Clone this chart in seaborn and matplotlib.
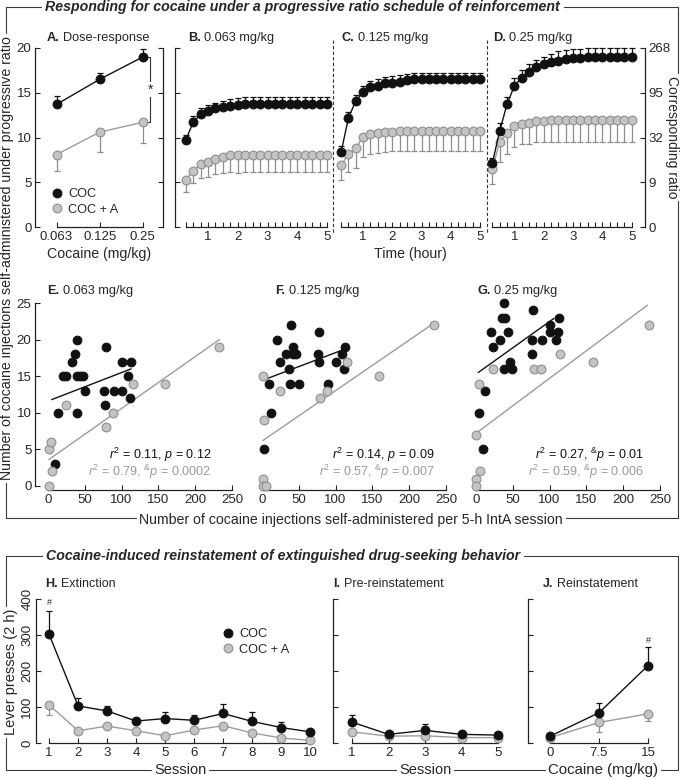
import numpy as np
import matplotlib
matplotlib.use('Agg')
import matplotlib.pyplot as plt
import seaborn as sns
from matplotlib.lines import Line2D

# 데이터 ------------------------------------------------------------------
W, H = 685, 779

# A. dose-response
doses = ['0.063', '0.125', '0.25']
a_coc = [13.7, 16.5, 19.0]
a_coc_err = [0.9, 0.7, 0.9]
a_coca = [8.1, 10.6, 11.7]
a_coca_err = [1.8, 2.2, 2.3]

# B-D. time course (cumulative injections)
time_h = [0.25, 0.5, 0.75, 1.0, 1.25, 1.5, 1.75, 2.0, 2.25, 2.5,
          2.75, 3.0, 3.25, 3.5, 3.75, 4.0, 4.25, 4.5, 4.75, 5.0]
b_coc = [9.7, 11.7, 12.6, 13.0, 13.25, 13.4, 13.55, 13.65, 13.7, 13.7,
         13.75, 13.75, 13.75, 13.75, 13.75, 13.75, 13.75, 13.75, 13.75, 13.75]
b_coc_err = [0.6, 0.7, 0.7, 0.65, 0.65, 0.7, 0.75, 0.75, 0.8, 0.8,
             0.8, 0.8, 0.8, 0.8, 0.8, 0.8, 0.8, 0.8, 0.8, 0.8]
b_coca = [5.25, 6.3, 7.0, 7.3, 7.55, 7.8, 8.0, 8.05, 8.1, 8.1,
          8.1, 8.1, 8.1, 8.1, 8.1, 8.1, 8.1, 8.1, 8.1, 8.1]
b_coca_err = [1.35, 1.4, 1.55, 1.7, 1.65, 1.8, 1.9, 2.0, 2.0, 2.0,
              2.0, 2.0, 2.0, 2.0, 2.0, 2.0, 2.0, 2.0, 2.0, 2.0]
c_coc = [8.4, 12.2, 14.1, 15.05, 15.6, 15.75, 16.05, 16.1, 16.2, 16.4,
         16.5, 16.5, 16.5, 16.5, 16.5, 16.5, 16.5, 16.5, 16.5, 16.5]
c_coc_err = [0.6, 0.7, 0.65, 0.7, 0.7, 0.75, 0.75, 0.75, 0.75, 0.75,
             0.75, 0.75, 0.75, 0.75, 0.75, 0.75, 0.75, 0.75, 0.75, 0.75]
c_coca = [6.9, 8.15, 8.8, 10.1, 10.35, 10.5, 10.6, 10.65, 10.7, 10.75,
          10.75, 10.75, 10.75, 10.75, 10.75, 10.75, 10.75, 10.75, 10.75, 10.75]
c_coca_err = [1.65, 1.95, 2.25, 2.25, 2.2, 2.2, 2.2, 2.2, 2.25, 2.25,
              2.25, 2.25, 2.25, 2.25, 2.25, 2.25, 2.25, 2.25, 2.25, 2.25]
d_coc = [7.1, 10.7, 13.7, 15.75, 16.7, 17.35, 17.9, 18.2, 18.4, 18.6,
         18.75, 18.85, 18.9, 18.95, 18.95, 19.0, 19.0, 19.0, 19.0, 19.0]
d_coc_err = [0.6, 0.9, 0.85, 0.85, 0.85, 0.85, 0.8, 0.8, 0.9, 1.1,
             1.0, 1.0, 1.0, 1.0, 1.0, 1.0, 1.0, 1.0, 1.0, 1.0]
d_coca = [6.45, 9.5, 10.55, 11.3, 11.5, 11.6, 11.8, 11.85, 11.9, 11.9,
          11.9, 11.9, 11.9, 11.9, 11.9, 11.9, 11.9, 11.9, 11.9, 11.9]
d_coca_err = [1.7, 2.2, 2.35, 2.35, 2.25, 2.3, 2.3, 2.35, 2.35, 2.35,
              2.35, 2.35, 2.35, 2.35, 2.35, 2.35, 2.35, 2.35, 2.35, 2.35]
ratio_ticks = [0, 5, 10, 15, 20]
ratio_labels = ['0', '9', '32', '95', '268']

# E-G. scatter: PR injections vs IntA injections
e_coc_x = [40, 37, 33, 20, 25, 39, 43, 47, 50, 13, 39, 10, 79, 101, 113, 109, 76, 90, 101, 77, 112]
e_coc_y = [20, 18, 17, 15, 15, 15, 15, 15, 13, 10, 10, 3, 19, 17, 17, 15, 13, 13, 13, 11, 12]
e_coca_x = [1, 4, 6, 2, 24, 79, 89, 115, 159, 233]
e_coca_y = [5, 6, 2, 0, 11, 8, 10, 14, 14, 19]
e_fit_coc = ([5, 113], [11.8, 16.0])
e_fit_coca = ([1, 233], [3.6, 20.0])

f_coc_x = [40, 20, 78, 42, 32, 42, 46, 24, 37, 76, 77, 109, 113, 101, 112, 10, 38, 50, 90, 12, 3]
f_coc_y = [22, 20, 21, 19, 18, 18, 18, 17, 16, 18, 17, 18, 19, 17, 16, 14, 14, 14, 14, 10, 5]
f_coca_x = [1, 24, 3, 1, 1, 5, 79, 88, 115, 159, 234]
f_coca_y = [15, 13, 9, 1, 0, 0, 12, 13, 17, 15, 22]
f_fit_coc = ([5, 110], [14.6, 18.6])
f_fit_coca = ([1, 233], [6.2, 22.2])

g_coc_x = [38, 36, 40, 78, 113, 20, 43, 100, 100, 112, 33, 23, 76, 90, 109, 76, 46, 38, 49, 12, 4, 9]
g_coc_y = [25, 23, 23, 24, 23, 21, 21, 22, 21, 21, 20, 19, 20, 20, 20, 18, 17, 16, 16, 13, 10, 5]
g_coca_x = [4, 23, 79, 88, 114, 159, 235, 0, 5, 0, 0]
g_coca_y = [14, 16, 16, 16, 18, 17, 22, 7, 2, 1, 0]
g_fit_coc = ([3, 106], [15.5, 22.9])
g_fit_coca = ([0, 233], [7.2, 24.7])

stats_text = {
    'E': (r'$r^2$ = 0.11, $p$ = 0.12', r'$r^2$ = 0.79, $^{&}p$ = 0.0002'),
    'F': (r'$r^2$ = 0.14, $p$ = 0.09', r'$r^2$ = 0.57, $^{&}p$ = 0.007'),
    'G': (r'$r^2$ = 0.27, $^{&}p$ = 0.01', r'$r^2$ = 0.59, $^{&}p$ = 0.006'),
}

# H-J. reinstatement
sessions_ext = [1, 2, 3, 4, 5, 6, 7, 8, 9, 10]
h_coc = [302, 103, 89, 61, 68, 63, 82, 60, 43, 31]
h_coc_err = [65, 21, 15, 3, 17, 15, 25, 26, 14, 4]
h_coca = [106, 34, 47, 34, 20, 36, 48, 28, 14, 7]
h_coca_err = [28, 4, 6, 4, 3, 5, 13, 3, 3, 2]

sessions_pre = [1, 2, 3, 4, 5]
i_coc = [58, 24, 35, 24, 22]
i_coc_err = [21, 4, 17, 3, 3]
i_coca = [31, 19, 20, 15, 15]
i_coca_err = [4, 6, 10, 5, 5]

reinst_doses = [0, 7.5, 15]
reinst_labels = ['0', '7.5', '15']
j_coc = [19, 84, 215]
j_coc_err = [3, 28, 51]
j_coca = [15, 57, 81]
j_coca_err = [3, 26, 19]

# 스타일 ------------------------------------------------------------------
sns.set_style('ticks')
plt.rcParams['font.family'] = ['Liberation Sans', 'DejaVu Sans']
plt.rcParams['mathtext.fontset'] = 'custom'
plt.rcParams['mathtext.rm'] = 'Liberation Sans'
plt.rcParams['mathtext.it'] = 'Liberation Sans:italic'
plt.rcParams['mathtext.bf'] = 'Liberation Sans:bold'

BLACK = '#111111'
GRAY_FACE = '#c4c4c4'
GRAY_EDGE = '#8e8e8e'
GRAY_LINE = '#9c9c9c'
GRAY_TEXT = '#9a9a9a'
FRAME = '#3a3a3a'
FS = 9.5      # tick labels
FL = 10.2     # axis / bracket labels
MS = 6.3

fig = plt.figure(figsize=(W / 100, H / 100), dpi=100)


def px_axes(l, t, r, b):
    ax = fig.add_axes([l / W, 1 - b / H, (r - l) / W, (b - t) / H])
    ax.set_facecolor('none')
    return ax


def style(ax, left=True, right=False, xb=None, yb=None):
    ax.spines['top'].set_visible(False)
    ax.spines['left'].set_visible(left)
    ax.spines['right'].set_visible(right)
    for s in ax.spines.values():
        s.set_linewidth(0.9)
        s.set_color('#222222')
    ax.tick_params(which='both', direction='in', length=3.5, width=0.8,
                   color='#222222', labelsize=FS, pad=3)
    ax.tick_params(axis='y', left=left, right=right, labelleft=left, pad=2.5)
    if xb is not None:
        ax.spines['bottom'].set_bounds(*xb)
    if yb is not None:
        ax.spines['left'].set_bounds(*yb)
        ax.spines['right'].set_bounds(*yb)


def series(ax, x, y, err, up, dark):
    err = np.asarray(err, dtype=float)
    zero = np.zeros_like(err)
    yerr = [zero, err] if up else [err, zero]
    ecol = BLACK if dark else GRAY_EDGE
    ax.errorbar(x, y, yerr=yerr, fmt='none', ecolor=ecol, elinewidth=0.9,
                capsize=2.4, capthick=0.9, zorder=2, clip_on=False)
    sns.lineplot(x=x, y=y, ax=ax, errorbar=None, color=BLACK if dark else GRAY_LINE,
                 lw=1.0, marker='o', markersize=MS,
                 markerfacecolor=BLACK if dark else GRAY_FACE,
                 markeredgecolor=BLACK if dark else GRAY_EDGE,
                 markeredgewidth=0.8, zorder=3, clip_on=False)


panel_titles = []


def panel_title(x, y, letter, rest, size=9.2):
    t = fig.text(x / W, 1 - y / H, letter + '.', fontsize=size, fontweight='bold',
                 ha='left', va='baseline')
    panel_titles.append((t, rest, size))


# --- A ---
axA = px_axes(35, 48, 163, 227)
series(axA, [0, 1, 2], a_coca, a_coca_err, False, False)
series(axA, [0, 1, 2], a_coc, a_coc_err, True, True)
axA.set_xlim(-0.5, 2.47)
axA.set_ylim(0, 20)
axA.set_yticks([0, 5, 10, 15, 20])
axA.set_xticks([0, 1, 2])
axA.set_xticklabels(doses)
style(axA, left=True, right=True, xb=(0, 2))
axA.tick_params(axis='y', right=True, labelright=False)
axA.set_xlabel('Cocaine (mg/kg)', fontsize=FL, labelpad=3)
# significance bracket
axA.plot([2.05, 2.17, 2.17, 2.05], [a_coc[2], a_coc[2], a_coca[2], a_coca[2]],
         color='#333333', lw=0.8, clip_on=False, zorder=1)
axA.text(2.17, (a_coc[2] + a_coca[2]) / 2, '*', ha='center', va='center',
         fontsize=10, zorder=4, bbox=dict(fc='white', ec='none', pad=0.5))
leg_handles = [Line2D([], [], ls='none', marker='o', markersize=MS, markerfacecolor=BLACK,
                      markeredgecolor=BLACK, markeredgewidth=0.8),
               Line2D([], [], ls='none', marker='o', markersize=MS, markerfacecolor=GRAY_FACE,
                      markeredgecolor=GRAY_EDGE, markeredgewidth=0.8)]
axA.legend(leg_handles, ['COC', 'COC + A'], loc='upper left', frameon=False,
           bbox_to_anchor=(51 / W, 1 - 188 / H), bbox_transform=fig.transFigure,
           borderaxespad=0, borderpad=0, handlelength=1.0, handletextpad=0.35,
           labelspacing=0.3, fontsize=9.2)
panel_title(47, 41, 'A', 'Dose-response')

# --- B, C, D ---
tc_panels = [
    ((175, 333), (-0.11, 5.2), b_coc, b_coc_err, b_coca, b_coca_err, 'B', '0.063 mg/kg', 188),
    ((333, 487), (-0.03, 5.24), c_coc, c_coc_err, c_coca, c_coca_err, 'C', '0.125 mg/kg', 342),
    ((487, 645), (0.07, 5.45), d_coc, d_coc_err, d_coca, d_coca_err, 'D', '0.25 mg/kg', 493),
]
tc_axes = []
for (l, r), xl, yc, ec, ya, ea, let, lab, tx in tc_panels:
    ax = px_axes(l, 48, r, 227)
    series(ax, time_h, ya, ea, False, False)
    series(ax, time_h, yc, ec, True, True)
    ax.set_xlim(*xl)
    ax.set_ylim(0, 20)
    ax.set_xticks([1, 2, 3, 4, 5])
    ax.set_xticks(time_h, minor=True)
    ax.set_yticks(ratio_ticks)
    style(ax, left=(let == 'B'), right=(let == 'D'), xb=(0.25, 5))
    panel_title(tx, 41, let, lab)
    tc_axes.append(ax)
tc_axes[0].set_yticklabels([])
axD = tc_axes[2]
axD.tick_params(axis='y', right=True, labelright=True, left=False, labelleft=False)
axD.set_yticklabels(ratio_labels)
tc_axes[1].set_xlabel('Time (hour)', fontsize=FL, labelpad=3)

# dashed separators
for xs in (333, 487):
    fig.add_artist(Line2D([xs / W, xs / W], [1 - 40 / H, 1 - 234 / H], transform=fig.transFigure,
                          color='#333333', lw=0.8, ls=(0, (3, 2))))

# --- E, F, G ---
sc_panels = [
    (35, 240, e_coc_x, e_coc_y, e_coca_x, e_coca_y, e_fit_coc, e_fit_coca, 'E', '0.063 mg/kg', 47, 222),
    (249, 454, f_coc_x, f_coc_y, f_coca_x, f_coca_y, f_fit_coc, f_fit_coca, 'F', '0.125 mg/kg', 275, 234),
    (463, 668, g_coc_x, g_coc_y, g_coca_x, g_coca_y, g_fit_coc, g_fit_coca, 'G', '0.25 mg/kg', 477, 228),
]
for l, r, cx, cy, gx, gy, fc, fg, let, lab, tx, sx in sc_panels:
    ax = px_axes(l, 303, r, 490)
    ax.plot(fc[0], fc[1], color=BLACK, lw=1.0, zorder=2)
    ax.plot(fg[0], fg[1], color=GRAY_LINE, lw=1.0, zorder=2)
    sns.scatterplot(x=cx, y=cy, ax=ax, color=BLACK, edgecolor=BLACK, s=40,
                    linewidth=0.7, zorder=3, clip_on=False)
    sns.scatterplot(x=gx, y=gy, ax=ax, color=GRAY_FACE, edgecolor=GRAY_EDGE, s=40,
                    linewidth=0.8, zorder=4, clip_on=False)
    ax.set_xlim(-17.7, 261)
    ax.set_ylim(-0.55, 25)
    ax.set_xticks([0, 50, 100, 150, 200, 250])
    ax.set_yticks([0, 5, 10, 15, 20, 25])
    style(ax, left=(let == 'E'), xb=(0, 250), yb=(0, 25))
    t1, t2 = stats_text[let]
    ax.text(sx, 4.2, t1, ha='right', va='center', fontsize=9, color=BLACK)
    ax.text(sx, 1.9, t2, ha='right', va='center', fontsize=9, color=GRAY_TEXT)
    panel_title(tx, 294, let, lab)

# --- H, I, J ---
axH = px_axes(36, 599, 322, 743)
series(axH, sessions_ext, h_coca, h_coca_err, False, False)
series(axH, sessions_ext, h_coc, h_coc_err, True, True)
axH.set_xlim(0.55, 10.41)
axH.set_xticks(sessions_ext)
axH.text(1, 389, '#', ha='center', va='center', fontsize=6.5)
axH.legend(leg_handles, ['COC', 'COC + A'], loc='upper left', frameon=False,
           bbox_to_anchor=(222 / W, 1 - 628 / H), bbox_transform=fig.transFigure,
           borderaxespad=0, borderpad=0, handlelength=1.0, handletextpad=0.35,
           labelspacing=0.3, fontsize=9.2)

axI = px_axes(333, 599, 512, 743)
series(axI, sessions_pre, i_coca, i_coca_err, False, False)
series(axI, sessions_pre, i_coc, i_coc_err, True, True)
axI.set_xlim(0.48, 5.38)
axI.set_xticks(sessions_pre)

axJ = px_axes(528, 599, 660, 743)
series(axJ, reinst_doses, j_coca, j_coca_err, False, False)
series(axJ, reinst_doses, j_coc, j_coc_err, True, True)
axJ.set_xlim(-3.37, 16.84)
axJ.set_xticks(reinst_doses)
axJ.set_xticklabels(reinst_labels)
axJ.text(15, 286, '#', ha='center', va='center', fontsize=6.5)

for ax, xb in ((axH, (1, 10)), (axI, (1, 5)), (axJ, (0, 15))):
    ax.set_ylim(0, 400)
    ax.set_yticks([0, 100, 200, 300, 400])
    style(ax, left=True, xb=xb, yb=(0, 400))
axH.tick_params(axis='y', labelleft=True, labelrotation=90, pad=2)
for lbl in axH.get_yticklabels():
    lbl.set_va('center')
axI.tick_params(axis='y', labelleft=False)
axJ.tick_params(axis='y', labelleft=False)
panel_title(45, 587, 'H', 'Extinction', size=9)
panel_title(333, 587, 'I', 'Pre-reinstatement', size=9)
panel_title(543, 587, 'J', 'Reinstatement', size=9)

# --- 섹션 테두리 ---
def seg(x0, y0, x1, y1):
    fig.add_artist(Line2D([x0 / W, x1 / W], [1 - y0 / H, 1 - y1 / H],
                          transform=fig.transFigure, color=FRAME, lw=0.8))


def ftext(x, y, s, size=FL, ha='center', **kw):
    return fig.text(x / W, 1 - y / H, s, ha=ha, va='center', fontsize=size, **kw)


t_sec1 = ftext(45, 7, 'Responding for cocaine under a progressive ratio schedule of reinforcement',
               ha='left', fontweight='bold', fontstyle='italic')
t_left1 = ftext(7.5, 258, 'Number of cocaine injections self-administered under progressive ratio',
                rotation=90)
t_right1 = ftext(672, 137, 'Corresponding ratio', size=10, rotation=270)
t_bot1 = ftext(351, 520, 'Number of cocaine injections self-administered per 5-h IntA session')
t_sec3 = ftext(46, 556, 'Cocaine-induced reinstatement of extinguished drug-seeking behavior',
               ha='left', fontweight='bold', fontstyle='italic')
t_left3 = ftext(11, 672, 'Lever presses (2 h)', size=10.5, rotation=90)
t_s1 = ftext(180, 770, 'Session', size=10.5)
t_s2 = ftext(425, 770, 'Session', size=10.5)
t_s3 = ftext(603, 770, 'Cocaine (mg/kg)', size=10.8)

fig.canvas.draw()
rend = fig.canvas.get_renderer()


def ext(t):
    bb = t.get_window_extent(rend)
    return bb.x0, bb.x1, H - bb.y1, H - bb.y0


# 패널 제목: 굵은 글자 뒤에 일반 글자
for t, rest, size in panel_titles:
    bb = t.get_window_extent(rend)
    xr = (bb.x1 + 0.28 * size * 100 / 72) / W
    fig.text(xr, t.get_position()[1], rest, fontsize=size, ha='left', va='baseline')

L, R = 6, 678
T1, B1 = 7, 518
x0, x1, _, _ = ext(t_sec1)
seg(L, T1, x0 - 4, T1)
seg(x1 + 4, T1, R, T1)
_, _, y0, y1 = ext(t_left1)
seg(L, T1, L, y0 - 3)
seg(L, y1 + 3, L, B1)
_, _, y0, y1 = ext(t_right1)
seg(R, T1, R, y0 - 3)
seg(R, y1 + 3, R, B1)
x0, x1, _, _ = ext(t_bot1)
seg(L, B1, x0 - 3, B1)
seg(x1 + 3, B1, R, B1)

T3, B3 = 556, 770
x0, x1, _, _ = ext(t_sec3)
seg(L, T3, x0 - 4, T3)
seg(x1 + 4, T3, R, T3)
_, _, y0, y1 = ext(t_left3)
seg(L, T3, L, y0 - 3)
seg(L, y1 + 3, L, B3)
seg(R, T3, R, B3)
xa = L
for t in (t_s1, t_s2, t_s3):
    x0, x1, _, _ = ext(t)
    seg(xa, B3, x0 - 3, B3)
    xa = x1 + 3
seg(xa, B3, R, B3)

fig.savefig('out.png', dpi=100)
